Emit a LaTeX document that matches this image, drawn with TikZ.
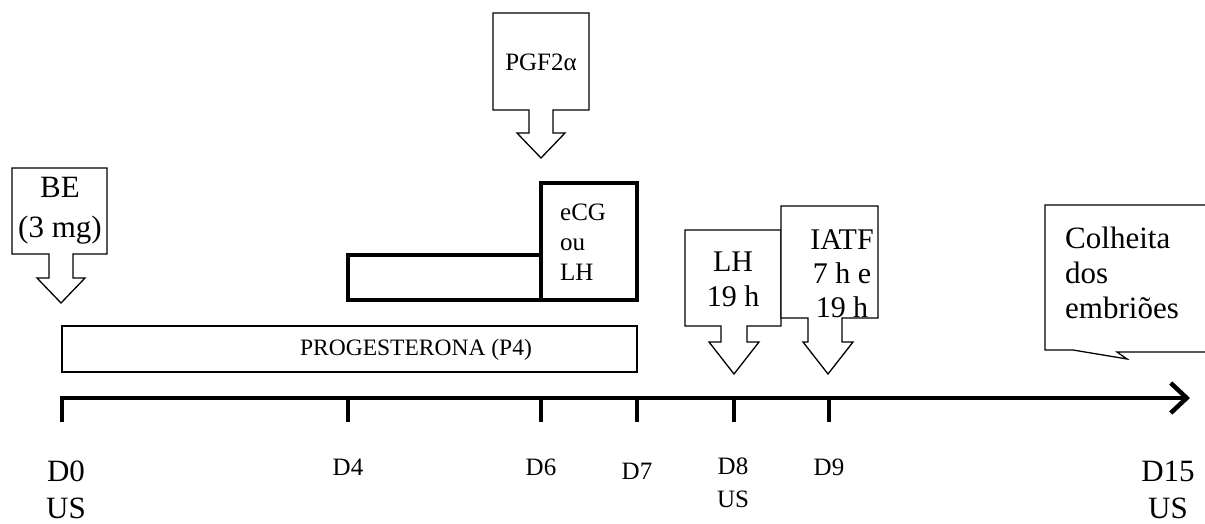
\documentclass[tikz,border=0pt]{standalone}
\usepackage{fontspec}
\setmainfont{Liberation Serif}
\usetikzlibrary{arrows.meta}
\tikzset{
  callout/.style={draw=black, fill=white, line width=1.3pt, line join=miter},
  bar/.style={draw=black, line width=1.3pt},
  thickbar/.style={draw=black, line width=4pt},
  timeline/.style={line width=4.5pt, -{Straight Barb[length=16pt,width=30pt]}},
  tickmark/.style={line width=3.5pt},
  bigtxt/.style={font=\fontsize{31}{37}\selectfont, align=center, inner sep=0pt},
  midtxt/.style={font=\fontsize{30}{34}\selectfont, align=center, inner sep=0pt},
  smalltxt/.style={font=\fontsize{25}{32}\selectfont, align=center, inner sep=0pt},
}
\begin{document}
\begin{tikzpicture}[x=1pt,y=-1pt]
  \useasboundingbox (0,0) rectangle (1205,524);
  % treatment bars
  \draw[bar] (62,326) rectangle (637,372);
  \node[font=\fontsize{23.5}{26}\selectfont, inner sep=0pt] (p4) at (416,350) {PROGESTERONA (P4)};
  \draw[thickbar] (348,255) rectangle (541,300);
  \draw[thickbar] (541,183) rectangle (637,300);
  \node[smalltxt, align=left, anchor=west, font=\fontsize{25}{30}\selectfont] (ecg) at (560,242) {eCG\\ou\\LH};
  % callouts
  \draw[callout] (12,168) -- (107,168) -- (107,254) -- (73,254) -- (73,278) -- (85,278)
    -- (61,303) -- (37,278) -- (49,278) -- (49,254) -- (12,254) -- cycle;
  \node[bigtxt, font=\fontsize{31}{40}\selectfont] (be) at (60,211) {BE\\(3 mg)};
  \draw[callout] (493,13) -- (589,13) -- (589,110) -- (553,110) -- (553,133) -- (565,133)
    -- (541,158) -- (517,133) -- (529,133) -- (529,110) -- (493,110) -- cycle;
  \node[smalltxt] (pgf) at (541,62) {PGF2α};
  \draw[callout] (685,230) -- (781,230) -- (781,326) -- (747,326) -- (747,342) -- (759,342)
    -- (734,374) -- (709,342) -- (721,342) -- (721,326) -- (685,326) -- cycle;
  \node[midtxt, font=\fontsize{30}{35}\selectfont] (lh) at (733,279) {LH\\19 h};
  \draw[callout] (781,206) -- (878,206) -- (878,318) -- (842,318) -- (842,342) -- (853,342)
    -- (828,374) -- (803,342) -- (808,342) -- (808,318) -- (781,318) -- cycle;
  \node[midtxt] (iatf) at (842,274) {IATF\\7 h e\\19 h};
  \draw[callout] (1045,205) -- (1212,205) -- (1212,352) -- (1117,352) -- (1127,359)
    -- (1073,350) -- (1045,350) -- cycle;
  \node[bigtxt, font=\fontsize{31}{35}\selectfont, align=left, anchor=west] (colheita) at (1065,273) {Colheita\\dos\\embriões};
  % time axis
  \draw[timeline] (60,398) -- (1190,398);
  \foreach \x in {62,348,541,637,734,829}
    \draw[tickmark] (\x,398) -- (\x,422);
  \node[bigtxt] (d0) at (66,490) {D0\\US};
  \node[smalltxt] (d4) at (348,467) {D4};
  \node[smalltxt] (d6) at (541,467) {D6};
  \node[smalltxt] (d7) at (637,471) {D7};
  \node[smalltxt, font=\fontsize{25}{33}\selectfont] (d8) at (733,483) {D8\\US};
  \node[smalltxt] (d9) at (829,467) {D9};
  \node[bigtxt] (d15) at (1168,490) {D15\\US};
\end{tikzpicture}
\end{document}
